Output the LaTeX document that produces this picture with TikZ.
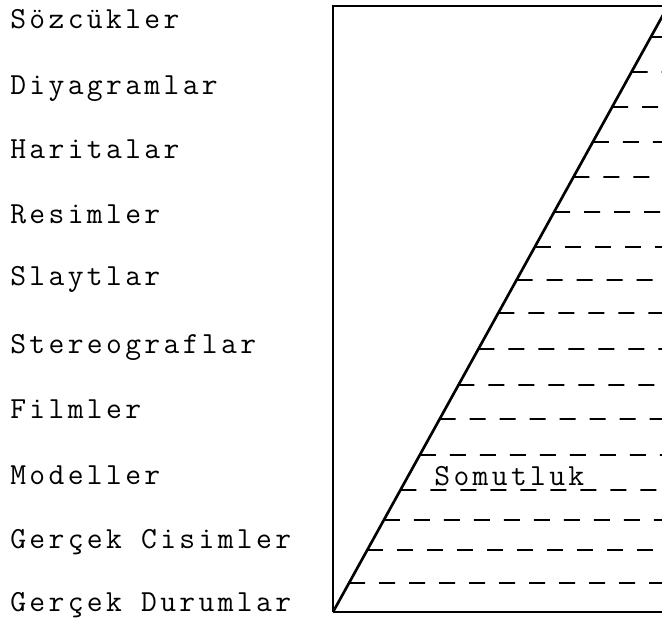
\documentclass[tikz,border=0pt]{standalone}
\usepackage{fontspec}
\newfontfamily\daktilo[LetterSpace=11]{Latin Modern Mono}
\usetikzlibrary{calc}
\tikzstyle{basamak}=[anchor=base west, inner sep=0pt, font=\daktilo\fontsize{23}{27}\selectfont]
\tikzstyle{tarama}=[line width=1.4pt, dash pattern=on 12pt off 10.5pt]

\begin{document}
\begin{tikzpicture}[x=0.75pt, y=-0.75pt, line width=2pt]
    \useasboundingbox (0,0) rectangle (662,619);
    \coordinate (solust) at (333,6);
    \coordinate (solalt) at (333,612);
    \coordinate (sagust) at (668,6);
    \coordinate (sagalt) at (668,612);
    \draw (solalt) -- (solust) -- (sagust);
    \draw (solalt) -- (sagalt);
    \draw (solalt) -- (sagust);
    \foreach \y in {37,72,107,142,177,212,247,280,313,349,385,419,455,490,520,550,583}
        \draw[tarama] ($(solalt)!{(612-\y)/606}!(sagust)$) -- (662,\y);
    \node[basamak] (sozcukler) at (9,28) {Sözcükler};
    \node[basamak] (diyagramlar) at (9,94) {Diyagramlar};
    \node[basamak] (haritalar) at (9,158) {Haritalar};
    \node[basamak] (resimler) at (9,223) {Resimler};
    \node[basamak] (slaytlar) at (9,285) {Slaytlar};
    \node[basamak] (stereograflar) at (9,353) {Stereograflar};
    \node[basamak] (filmler) at (9,418) {Filmler};
    \node[basamak] (modeller) at (9,484) {Modeller};
    \node[basamak] (gercekcisim) at (9,548) {Gerçek Cisimler};
    \node[basamak] (gercekdurum) at (9,611) {Gerçek Durumlar};
    \node[basamak] (somutluk) at (433,485) {Somutluk};
\end{tikzpicture}
\end{document}
